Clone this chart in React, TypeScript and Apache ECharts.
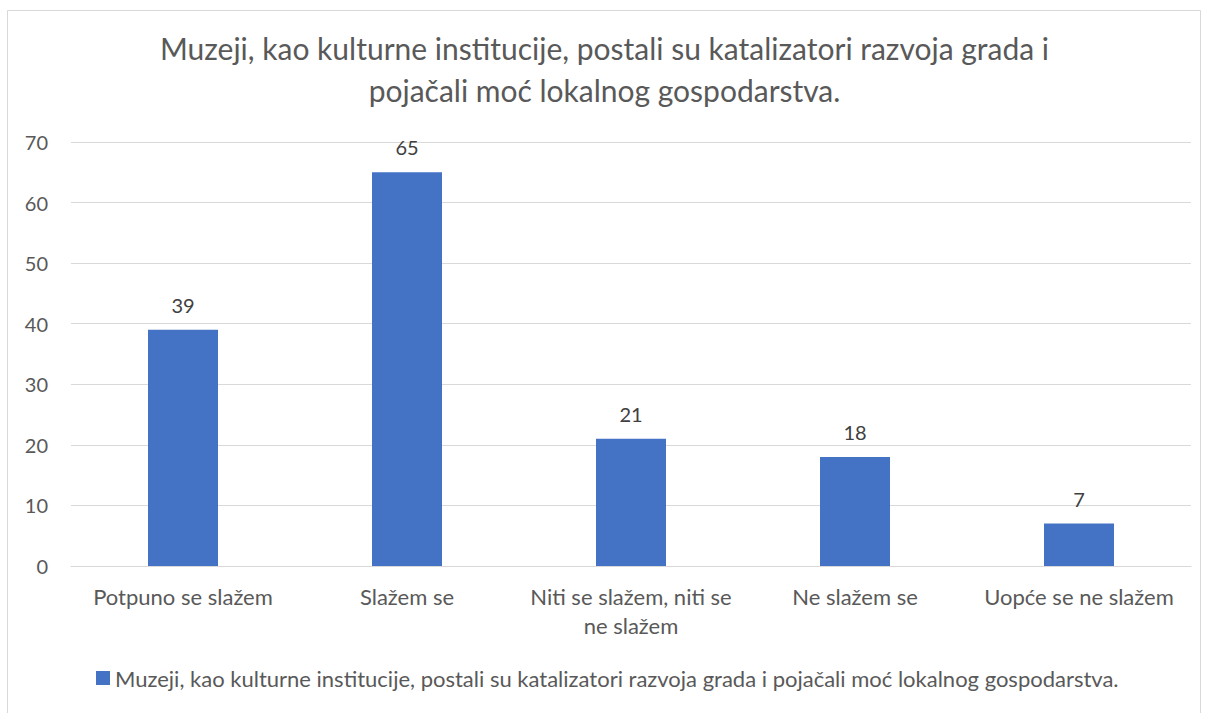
import React, { useEffect, useRef } from "react";
import * as echarts from "echarts";

const titleLines = [
  "Muzeji, kao kulturne institucije, postali su katalizatori razvoja grada i",
  "pojačali moć lokalnog gospodarstva.",
];
const seriesName =
  "Muzeji, kao kulturne institucije, postali su katalizatori razvoja grada i pojačali moć lokalnog gospodarstva.";
const categories = [
  "Potpuno se slažem",
  "Slažem se",
  "Niti se slažem, niti se\nne slažem",
  "Ne slažem se",
  "Uopće se ne slažem",
];
const values = [39, 65, 21, 18, 7];
const yTicks = { min: 0, max: 70, interval: 10 };

const FONT = "Lato, 'Open Sans', sans-serif";

export default function App() {
  const ref = useRef<HTMLDivElement>(null);
  useEffect(() => {
    if (!ref.current) return;
    const chart = echarts.init(ref.current, null, { renderer: "svg" });
    const titleStyle = {
      fontFamily: FONT,
      fontSize: 30,
      fontWeight: "normal",
      color: "#595959",
    };
    chart.setOption({
      animation: false,
      backgroundColor: "#ffffff",
      textStyle: { fontFamily: FONT },
      title: [
        { text: titleLines[0], left: "center", top: 33, padding: 0, textStyle: titleStyle },
        { text: titleLines[1], left: "center", top: 75, padding: 0, textStyle: titleStyle },
      ],
      graphic: [
        {
          type: "rect",
          shape: { x: 7.5, y: 10.5, width: 1193, height: 720 },
          style: { fill: "none", stroke: "#d9d9d9", lineWidth: 1 },
          silent: true,
        },
      ],
      legend: {
        bottom: 19,
        left: 91,
        itemWidth: 14,
        itemHeight: 14,
        itemGap: 6,
        icon: "rect",
        textStyle: { fontFamily: FONT, fontSize: 22, color: "#595959" },
        data: [seriesName],
      },
      grid: { left: 71, right: 18, top: 142, bottom: 147 },
      xAxis: {
        type: "category",
        data: categories,
        axisTick: { show: false },
        axisLine: { show: true, lineStyle: { color: "#d9d9d9", width: 1 } },
        axisLabel: {
          color: "#595959",
          fontSize: 22,
          fontFamily: FONT,
          margin: 16,
          lineHeight: 29,
          interval: 0,
        },
      },
      yAxis: {
        type: "value",
        min: yTicks.min,
        max: yTicks.max,
        interval: yTicks.interval,
        axisLine: { show: false },
        axisTick: { show: false },
        splitLine: { lineStyle: { color: "#d9d9d9", width: 1 } },
        axisLabel: { color: "#595959", fontSize: 20, fontFamily: FONT, margin: 23 },
      },
      series: [
        {
          name: seriesName,
          type: "bar",
          data: values,
          barWidth: 70,
          itemStyle: { color: "#4472c4" },
          label: {
            show: true,
            position: "top",
            distance: 15,
            color: "#404040",
            fontSize: 20,
            fontFamily: FONT,
          },
        },
      ],
    });
    return () => chart.dispose();
  }, []);
  return (
    <div
      ref={ref}
      style={{ position: "absolute", left: 0, top: 0, width: 1209, height: 713 }}
    />
  );
}
